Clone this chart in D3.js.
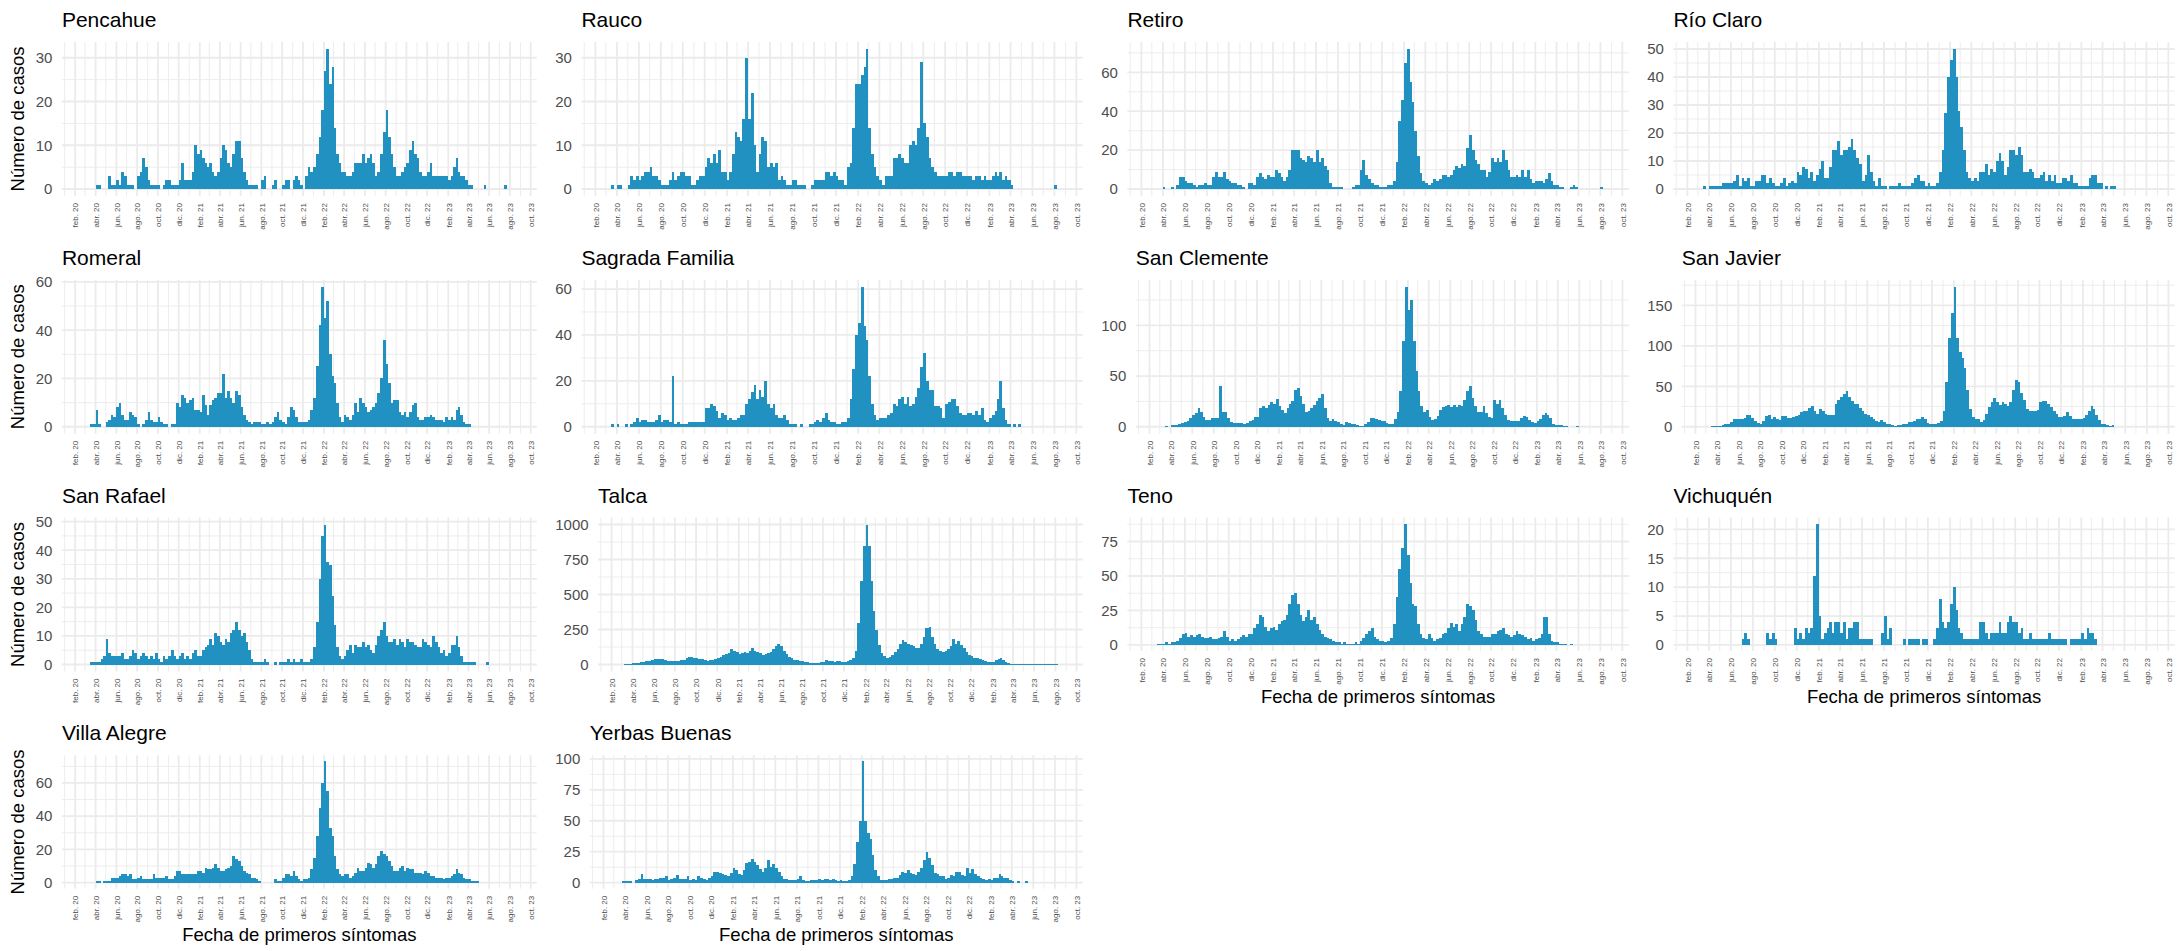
<!DOCTYPE html>
<html lang="es">
<head>
<meta charset="utf-8">
<script src="https://cdn.jsdelivr.net/npm/d3@7"></script>
<style>
  html, body { margin: 0; padding: 0; background: #ffffff; }
  svg { display: block; font-family: "Liberation Sans", Arial, Helvetica, sans-serif; }
</style>
</head>
<body>
<svg id="chart" width="2184" height="951"></svg>
<script>
// ---------------- DATA ----------------
// Casos por semana (4 tramos por mes: días 1, 8, 16, 23), de feb. 2020 a sept. 2023
const comunas = ["Pencahue", "Rauco", "Retiro", "Río Claro", "Romeral", "Sagrada Familia",
  "San Clemente", "San Javier", "San Rafael", "Talca", "Teno", "Vichuquén", "Villa Alegre", "Yerbas Buenas"];

const primerMes = [2020, 1];          // febrero 2020
const diasInicioTramo = [1, 8, 16, 23];

const pencahue = [
  0,0,0,0, 0,0,0,0, 1,1,0,0, 0,3,1,1, 2,1,4,3, 1,1,1,0, 3,4,7,5, 2,1,1,1, 1,0,1,2, 2,1,1,1, 2,6,2,2,
  2,4,10,8, 9,7,6,5, 6,4,3,4, 7,10,9,6, 5,8,11,11, 7,4,2,1, 1,1,1,0, 2,3,0,0, 1,2,0,0, 1,2,2,0, 2,3,2,1, 0,3,5,4,
  5,8,12,18, 27,32,24,28, 14,8,6,4, 4,3,3,4, 6,6,6,8, 6,7,8,6, 3,4,8,13, 18,12,8,5, 3,3,4,5, 6,9,11,8, 7,4,3,3, 4,6,3,3,
  3,3,3,3, 2,3,5,7, 4,3,3,2, 1,1,0,0, 0,0,1,0, 0,0,0,0, 0,0,1,0, 0,0,0,0, 0,0,0,0
];
const rauco = [
  0,0,0,0, 0,0,1,0, 1,1,0,0, 1,3,2,3, 2,3,4,4, 5,3,3,2, 1,1,1,2, 4,2,3,4, 4,3,3,1, 1,2,3,3, 5,7,6,8,
  6,9,4,4, 2,4,8,13, 12,11,16,30, 16,22,10,4, 8,12,11,5, 6,5,6,2, 3,2,1,1, 2,2,1,1, 1,0,0,1, 2,2,2,2, 4,4,3,4, 3,2,2,1,
  5,6,14,24, 24,26,28,32, 14,8,5,3, 2,1,3,3, 3,7,7,8, 7,6,6,10, 11,10,14,29, 15,12,7,5, 4,3,3,3, 3,4,4,3, 4,4,3,3, 3,3,2,3,
  3,2,3,2, 2,3,4,3, 4,2,3,2, 1,0,0,0, 0,0,0,0, 0,0,0,0, 0,0,0,0, 1,0,0,0, 0,0,0,0
];
const retiro = [
  0,0,0,0, 0,0,0,0, 1,0,0,1, 0,2,6,6, 4,3,3,2, 1,2,2,3, 2,2,6,9, 6,6,9,5, 4,3,3,2, 2,1,0,3, 3,2,6,8,
  6,5,7,6, 6,10,8,6, 4,6,10,20, 20,20,16,15, 14,17,16,14, 20,14,16,12, 10,3,1,1, 1,1,0,0, 0,1,2,2, 10,15,7,5, 3,2,2,1, 1,1,2,2,
  4,14,35,46, 65,72,55,45, 30,17,8,4, 3,2,3,5, 4,5,7,7, 6,7,10,12, 11,13,12,21, 28,20,15,13, 10,10,6,9, 16,14,16,14, 20,15,10,6, 6,7,6,10,
  6,10,5,3, 4,4,4,3, 5,8,4,2, 2,1,1,0, 0,1,2,1, 0,0,0,0, 0,0,0,0, 1,0,0,0, 0,0,0,0
];
const rioClaro = [
  0,0,0,0, 0,0,1,0, 1,1,1,1, 1,2,2,2, 2,3,5,1, 4,3,4,1, 1,3,3,5, 5,2,4,2, 1,1,2,4, 1,2,3,2, 6,5,8,7,
  4,6,3,5, 7,10,4,4, 8,14,14,17, 12,14,14,15, 18,14,11,9, 3,5,12,6, 3,1,4,1, 1,0,1,1, 1,2,1,1, 1,1,2,4, 5,3,3,1, 2,1,1,2,
  6,14,27,40, 46,50,40,28, 22,14,6,4, 3,4,3,6, 6,9,5,7, 6,10,13,10, 5,8,14,14, 12,15,12,6, 6,7,6,4, 4,5,6,3, 5,3,5,2, 2,4,4,3,
  5,2,2,1, 1,1,1,4, 5,5,2,2, 0,1,0,1, 1,0,0,0, 0,0,0,0, 0,0,0,0, 0,0,0,0, 0,0,0,0
];
const romeral = [
  0,0,0,0, 0,0,1,1, 7,1,0,0, 2,3,5,4, 8,10,5,3, 3,6,5,4, 1,0,1,3, 6,3,2,2, 4,2,1,1, 0,1,1,10, 8,13,12,10,
  11,12,7,7, 6,13,9,5, 9,11,12,14, 14,22,12,15, 12,10,15,13, 8,5,3,2, 1,2,2,2, 1,1,2,1, 2,4,6,3, 2,1,4,8, 7,4,2,2, 2,2,3,7,
  12,25,42,58, 45,52,30,21, 18,10,4,2, 5,4,3,5, 10,6,12,10, 8,6,7,8, 10,14,20,36, 26,18,10,11, 11,6,5,6, 4,6,9,10, 4,3,3,4, 4,5,4,3,
  3,3,2,4, 3,4,3,7, 8,5,2,1, 1,0,0,0, 0,0,0,0, 0,0,0,0, 0,0,0,0, 0,0,0,0, 0,0,0,0
];
const sagradaFamilia = [
  0,0,0,0, 0,0,1,0, 1,0,0,1, 0,1,2,4, 2,3,3,2, 2,2,3,5, 2,3,3,2, 22,1,2,1, 1,1,2,2, 2,2,2,2, 8,8,10,9,
  7,4,6,5, 3,4,3,3, 4,5,5,10, 12,15,18,12, 16,13,20,10, 8,10,5,4, 4,5,3,1, 1,1,0,1, 0,0,1,1, 2,3,2,4, 6,3,2,2, 1,1,2,2,
  4,12,25,40, 45,61,44,38, 22,10,5,3, 4,4,4,5, 6,10,9,12, 13,10,13,9, 10,13,17,26, 32,20,16,16, 9,9,8,4, 10,11,12,12, 9,6,5,5, 6,6,5,7,
  5,8,3,2, 4,5,7,12, 20,8,3,1, 0,1,0,1, 0,0,0,0, 0,0,0,0, 0,0,0,0, 0,0,0,0, 0,0,0,0
];
const sanClemente = [
  0,0,0,0, 0,0,1,0, 2,2,2,3, 4,5,6,9, 12,14,18,15, 10,7,7,9, 9,9,40,15, 15,9,5,4, 4,4,4,3, 4,6,7,10, 10,18,20,18,
  21,24,22,27, 20,17,14,18, 22,25,36,38, 30,22,15,16, 18,21,25,28, 32,18,9,6, 8,6,5,3, 2,5,4,3, 3,2,1,1, 3,5,9,9, 8,7,6,6, 4,3,3,8,
  15,35,85,138, 115,125,85,55, 35,20,15,17, 10,7,8,11, 17,19,20,21, 19,21,19,21, 20,26,35,40, 28,20,15,15, 20,14,10,9, 26,22,26,18, 12,7,6,6, 6,6,9,11,
  10,7,5,4, 6,8,12,14, 12,9,3,2, 2,2,1,1, 0,0,0,1, 0,0,0,0, 0,0,0,0, 0,0,0,0, 0,0,0,0
];
const sanJavier = [
  0,0,0,0, 0,0,1,1, 1,1,2,3, 4,6,9,9, 9,9,11,14, 14,11,7,5, 3,7,13,14, 10,12,10,8, 13,13,11,11, 12,13,15,18, 20,20,23,26,
  20,16,22,20, 16,15,15,15, 28,33,37,40, 44,37,32,28, 28,23,19,16, 15,12,9,7, 6,8,6,4, 3,2,1,2, 2,4,4,6, 6,7,9,10, 12,9,5,4, 3,4,5,7,
  20,55,110,140, 173,110,92,85, 72,45,22,12, 9,10,6,8, 16,25,30,36, 30,27,30,28, 26,30,45,58, 55,42,33,22, 20,20,19,21, 30,32,32,28, 24,20,16,12, 12,13,18,13,
  10,9,10,9, 11,14,20,26, 22,15,8,4, 3,2,1,2, 0,0,0,0, 0,0,0,0, 0,0,0,0, 0,0,0,0, 0,0,0,0
];
const sanRafael = [
  0,0,0,0, 0,0,1,1, 1,1,2,3, 9,4,3,3, 3,3,4,2, 2,3,5,4, 2,3,4,3, 2,3,2,4, 2,1,3,2, 3,5,3,2, 3,4,2,3,
  2,4,5,3, 3,5,6,7, 9,7,11,10, 8,7,9,8, 11,12,15,12, 10,11,8,5, 2,1,1,1, 1,2,1,0, 0,1,0,1, 1,1,2,1, 2,1,1,2, 1,1,1,2,
  6,15,30,45, 49,36,35,24, 14,6,3,2, 3,5,7,4, 7,6,6,8, 6,7,5,4, 7,10,12,15, 10,8,8,9, 7,9,8,6, 9,8,8,7, 6,6,9,8, 7,6,10,8,
  6,4,5,3, 4,7,7,10, 6,3,1,1, 1,1,1,0, 0,0,0,1, 0,0,0,0, 0,0,0,0, 0,0,0,0, 0,0,0,0
];
const talca = [
  0,0,0,0, 0,2,3,5, 8,10,12,15, 20,25,28,32, 38,42,40,36, 30,26,24,22, 24,28,30,35, 45,55,52,48, 45,40,36,32, 28,30,35,40, 45,55,65,75,
  85,110,100,90, 75,80,90,85, 95,115,100,90, 80,70,75,80, 90,110,130,145, 130,100,75,55, 45,35,30,28, 25,20,15,12, 10,10,12,15, 20,30,25,22, 20,28,25,20, 18,22,30,50,
  100,300,600,850, 1000,850,600,380, 250,140,80,60, 45,55,70,90, 110,150,175,160, 150,140,130,120, 120,150,200,260, 270,200,150,110, 100,90,95,110, 130,180,150,170, 140,120,90,70, 60,50,45,40,
  35,25,20,18, 20,30,40,45, 35,20,10,6, 5,4,3,3, 2,3,3,2, 2,2,2,1, 2,2,1,1, 1,0,0,0, 0,0,0,0
];
const teno = [
  0,0,0,0, 0,0,1,1, 1,2,1,2, 2,3,5,8, 9,6,7,6, 7,8,6,5, 5,6,4,4, 5,6,10,6, 3,4,3,4, 6,7,6,8, 8,12,15,22,
  20,13,10,12, 13,11,15,17, 18,22,30,36, 38,30,22,17, 20,25,18,20, 15,11,8,6, 5,4,3,2, 2,1,2,1, 1,1,2,1, 3,5,8,10, 12,6,4,3, 3,2,3,5,
  15,35,55,70, 88,65,45,30, 28,15,8,5, 4,8,5,3, 4,5,8,9, 12,16,13,15, 10,15,20,30, 28,25,18,10, 8,6,6,6, 8,8,10,11, 12,8,7,6, 7,10,8,7,
  6,4,5,3, 4,5,8,20, 20,8,3,2, 2,1,1,1, 0,1,0,0, 0,0,0,0, 0,0,0,0, 0,0,0,0, 0,0,0,0
];
const vichuquen = [
  0,0,0,0, 0,0,0,0, 0,0,0,0, 0,0,0,0, 0,0,0,0, 1,2,1,0, 0,0,0,0, 0,2,1,2, 1,0,0,0, 0,0,0,3, 1,2,1,3,
  2,3,12,21, 5,1,2,3, 4,2,4,4, 2,4,1,3, 3,4,4,1, 1,1,1,1, 0,0,0,2, 5,1,3,0, 0,0,0,1, 0,1,1,1, 1,0,1,1, 0,0,1,3,
  8,4,3,4, 7,10,6,3, 2,1,1,1, 1,1,1,4, 4,2,1,2, 2,2,4,2, 2,4,5,4, 4,2,3,1, 1,2,1,1, 1,1,1,1, 2,1,1,1, 1,1,1,0,
  1,1,1,1, 2,1,3,2, 2,1,0,0, 0,0,0,0, 0,0,0,0, 0,0,0,0, 0,0,0,0, 0,0,0,0, 0,0,0,0
];
const villaAlegre = [
  0,0,0,0, 0,0,0,0, 1,1,0,1, 1,1,3,3, 3,4,5,5, 4,5,2,2, 3,4,2,2, 2,2,5,3, 3,3,3,4, 2,2,4,7, 7,5,5,5,
  5,5,5,7, 7,6,9,8, 8,9,11,9, 7,7,8,9, 10,16,14,13, 10,7,6,5, 3,3,2,1, 0,0,0,0, 0,2,1,1, 3,5,5,4, 7,4,2,1, 2,2,3,8,
  15,28,45,60, 73,55,33,28, 16,8,5,4, 5,5,3,4, 6,9,7,7, 9,12,11,9, 11,16,19,17, 16,13,10,7, 7,9,10,7, 9,8,8,6, 6,6,5,7, 6,4,4,3,
  3,3,2,3, 3,4,5,8, 6,5,3,2, 2,1,1,1, 0,0,0,0, 0,0,0,0, 0,0,0,0, 0,0,0,0, 0,0,0,0
];
const yerbasBuenas = [
  0,0,0,0, 0,0,0,1, 1,1,1,0, 2,3,7,3, 3,3,2,3, 3,4,4,5, 2,3,4,6, 3,3,3,5, 2,3,2,5, 4,3,2,4, 5,9,9,8,
  7,6,5,8, 12,10,7,6, 10,16,17,19, 17,14,11,9, 12,18,13,15, 12,9,5,3, 3,2,2,2, 3,5,2,1, 1,2,2,2, 3,2,3,3, 2,3,2,1, 2,1,1,2,
  5,15,33,50, 98,50,40,35, 22,10,5,2, 2,2,3,3, 4,4,6,9, 8,10,8,7, 6,9,12,18, 25,20,14,8, 7,5,5,3, 4,6,5,9, 9,6,5,12, 8,11,7,5,
  4,3,2,3, 2,4,4,7, 5,4,4,2, 1,0,1,0, 0,1,0,0, 0,0,0,0, 0,0,0,0, 0,0,0,0, 0,0,0,0
];

const series = [pencahue, rauco, retiro, rioClaro, romeral, sagradaFamilia, sanClemente,
  sanJavier, sanRafael, talca, teno, vichuquen, villaAlegre, yerbasBuenas];

// Marcas del eje Y de cada panel
const yTicks = [
  [0, 10, 20, 30], [0, 10, 20, 30], [0, 20, 40, 60], [0, 10, 20, 30, 40, 50],
  [0, 20, 40, 60], [0, 20, 40, 60], [0, 50, 100], [0, 50, 100, 150],
  [0, 10, 20, 30, 40, 50], [0, 250, 500, 750, 1000], [0, 25, 50, 75], [0, 5, 10, 15, 20],
  [0, 20, 40, 60], [0, 25, 50, 75, 100]
];

// Etiquetas del eje X
const mesesAbrev = ["ene.", "feb.", "mar.", "abr.", "may.", "jun.", "jul.", "ago.", "sept.", "oct.", "nov.", "dic."];
const xDomain = [new Date(2019, 11, 24), new Date(2023, 9, 19)];

const tituloY = "Número de casos";
const tituloX = "Fecha de primeros síntomas";

// ---------------- LAYOUT / STYLE ----------------
const W = 2184, H = 951, nCols = 4, nRows = 4;
const cellW = W / nCols, cellH = H / nRows;
const M = 9.2;
const barColor = "#2191c1";
const gridColor = "#ebebeb";
const tickColor = "#4d4d4d";

const svg = d3.select("#chart");
svg.append("rect").attr("width", W).attr("height", H).attr("fill", "#fff");

function textWidth(str, size) {
  const t = svg.append("text").attr("font-size", size).text(str);
  const w = t.node().getComputedTextLength();
  t.remove();
  return w;
}

function buildBins(values) {
  const bins = [];
  const nMonths = Math.floor(values.length / 4);
  for (let m = 0; m < nMonths; m++) {
    for (let k = 0; k < 4; k++) {
      const start = new Date(primerMes[0], primerMes[1] + m, diasInicioTramo[k]);
      const end = k < 3 ? new Date(primerMes[0], primerMes[1] + m, diasInicioTramo[k + 1])
                        : new Date(primerMes[0], primerMes[1] + m + 1, 1);
      bins.push({ start, end, v: values[m * 4 + k] });
    }
  }
  return bins;
}

const allMonths = d3.timeMonth.range(new Date(2020, 0, 1), new Date(2023, 10, 2));
const xTickDates = allMonths.filter(d => d.getMonth() % 2 === 1);
const fmtX = d => mesesAbrev[d.getMonth()] + " " + String(d.getFullYear()).slice(2);

comunas.forEach((name, i) => {
  const row = Math.floor(i / nCols), col = i % nCols;
  const cx = col * cellW, cy = row * cellH;
  const hasYTitle = col === 0;
  const hasXTitle = row === 3 || (row === 2 && col >= 2);
  const values = series[i];
  const ticks = yTicks[i];
  const maxV = d3.max(values);

  const labW = d3.max(ticks, t => textWidth(String(t), 15));
  const left = cx + M + (hasYTitle ? 26.5 : 0) + labW + 9.5;
  const right = cx + cellW - M;
  const top = cy + 42;
  const bottom = cy + (hasXTitle ? 175.5 : 196);

  const x = d3.scaleTime().domain(xDomain).range([left, right]);
  const y = d3.scaleLinear().domain([-0.05 * maxV, 1.05 * maxV]).range([bottom, top]);

  const g = svg.append("g");

  const step = ticks[1] - ticks[0];
  const minorY = [ticks[0] - step / 2].concat(ticks.map(t => t + step / 2))
    .filter(v => v >= y.domain()[0] && v <= y.domain()[1]);
  const minorX = allMonths.filter(d => d.getMonth() % 2 === 0 && d >= xDomain[0] && d <= xDomain[1]);
  const majorX = xTickDates.filter(d => d >= xDomain[0] && d <= xDomain[1]);

  g.append("g").selectAll("line").data(minorY).join("line")
    .attr("x1", left).attr("x2", right).attr("y1", d => y(d)).attr("y2", d => y(d))
    .attr("stroke", gridColor).attr("stroke-width", 0.9);
  g.append("g").selectAll("line").data(minorX).join("line")
    .attr("x1", d => x(d)).attr("x2", d => x(d)).attr("y1", top).attr("y2", bottom)
    .attr("stroke", gridColor).attr("stroke-width", 0.9);
  g.append("g").selectAll("line").data(ticks).join("line")
    .attr("x1", left).attr("x2", right).attr("y1", d => y(d)).attr("y2", d => y(d))
    .attr("stroke", gridColor).attr("stroke-width", 1.8);
  g.append("g").selectAll("line").data(majorX).join("line")
    .attr("x1", d => x(d)).attr("x2", d => x(d)).attr("y1", top).attr("y2", bottom)
    .attr("stroke", gridColor).attr("stroke-width", 1.8);

  const bins = buildBins(values).filter(b => b.v > 0);
  g.append("g").attr("shape-rendering", "crispEdges").selectAll("rect").data(bins).join("rect")
    .attr("x", b => x(b.start))
    .attr("width", b => Math.max(0.8, x(b.end) - x(b.start)))
    .attr("y", b => y(b.v))
    .attr("height", b => y(0) - y(b.v))
    .attr("fill", barColor);

  const yAxis = g.append("g").attr("transform", `translate(${left},0)`)
    .call(d3.axisLeft(y).tickValues(ticks).tickSize(0).tickPadding(9.5).tickFormat(d3.format("d")));
  yAxis.select(".domain").remove();
  yAxis.attr("font-family", null).attr("font-size", null);
  yAxis.selectAll("text").attr("font-size", 15).attr("fill", tickColor);

  const xAxis = g.append("g").attr("transform", `translate(0,${bottom})`)
    .call(d3.axisBottom(x).tickValues(majorX).tickSize(0).tickFormat(fmtX));
  xAxis.select(".domain").remove();
  xAxis.attr("font-family", null).attr("font-size", null);
  xAxis.selectAll("text")
    .attr("font-size", 8).attr("fill", tickColor)
    .attr("transform", "rotate(-90)")
    .attr("text-anchor", "end")
    .attr("x", -7).attr("y", 0).attr("dy", "0.35em");

  g.append("text").attr("x", left).attr("y", cy + 27)
    .attr("font-size", 21).attr("fill", "#000").text(name);

  if (hasYTitle) {
    g.append("text")
      .attr("transform", `translate(${cx + M + 15},${(top + bottom) / 2}) rotate(-90)`)
      .attr("text-anchor", "middle").attr("font-size", 18.5).attr("fill", "#000")
      .text(tituloY);
  }
  if (hasXTitle) {
    g.append("text").attr("x", (left + right) / 2).attr("y", cy + cellH - 10)
      .attr("text-anchor", "middle").attr("font-size", 18.5).attr("fill", "#000")
      .text(tituloX);
  }
});
</script>
</body>
</html>
